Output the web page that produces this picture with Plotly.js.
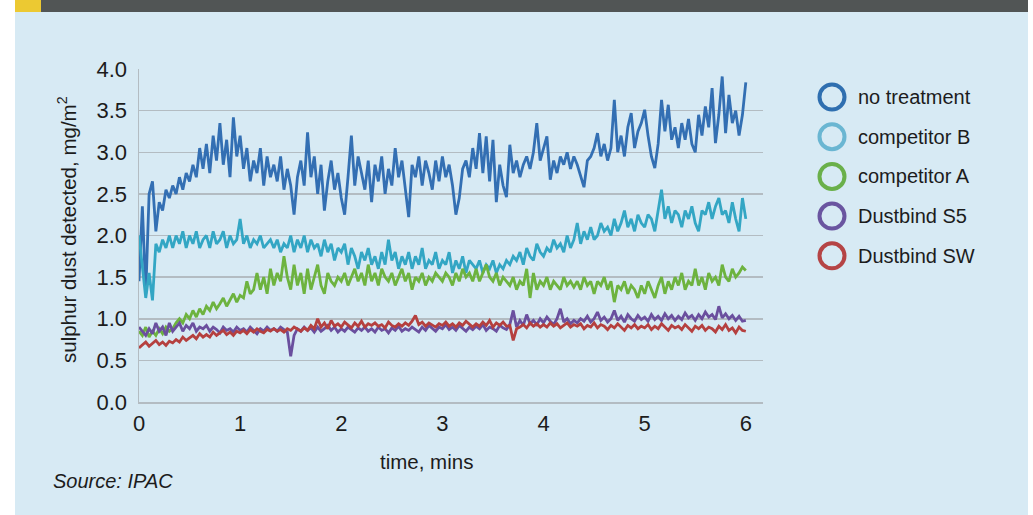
<!DOCTYPE html>
<html><head><meta charset="utf-8">
<script src="https://cdn.plot.ly/plotly-3.0.1.min.js"></script>
<style>
html,body{margin:0;padding:0;background:#fff;width:1033px;height:515px;overflow:hidden;}
#panel{position:absolute;left:15px;top:12px;width:1013px;height:503px;background:#d7eaf4;}
#bar{position:absolute;left:15px;top:0;width:1013px;height:12px;background:#515555;}
#yel{position:absolute;left:15px;top:0;width:26px;height:12px;background:#ecc932;}
#chart{position:absolute;left:0;top:0;width:1033px;height:515px;}
</style></head><body>
<div id="panel"></div><div id="bar"></div><div id="yel"></div>
<div id="chart"></div>
<script>
// sampled every 2 seconds, 0..6 min
const seriesNames = ["no treatment", "competitor B", "competitor A", "Dustbind S5", "Dustbind SW"];
const lineColors = ["#336fb3", "#33a6c4", "#6db33f", "#6a4f9e", "#b5403f"];
const legendColors = ["#2f6fb0", "#6ab6d2", "#6ab04a", "#6a55a0", "#b54445"];
const xTicks = [0, 1, 2, 3, 4, 5, 6];
const yTicks = [0, 0.5, 1, 1.5, 2, 2.5, 3, 3.5, 4];

const noTreatment = [
1.45,2.35,1.30,2.50,2.65,2.05,2.40,2.30,2.55,2.45,
2.60,2.50,2.70,2.55,2.75,2.65,2.85,2.70,3.05,2.80,
3.10,2.75,3.20,2.90,3.35,2.85,3.15,2.70,3.42,2.95,
3.20,2.80,3.05,2.65,2.90,2.75,3.05,2.60,2.95,2.70,
2.85,2.65,2.95,2.55,2.80,2.60,2.25,2.70,2.90,2.60,
3.24,2.70,2.95,2.50,2.85,2.30,2.65,2.90,2.55,2.75,
2.45,2.25,2.70,3.20,2.60,2.95,2.75,2.55,2.90,2.40,
2.85,2.65,2.95,2.50,2.80,2.60,3.05,2.70,2.90,2.55,
2.22,2.85,2.70,2.95,2.60,2.90,2.75,2.55,2.90,2.65,
2.95,2.70,2.85,2.60,2.25,2.45,2.80,2.90,2.70,3.05,
2.80,3.23,2.75,3.19,2.65,3.15,2.40,2.85,2.60,2.46,
3.09,2.75,2.90,2.70,2.85,2.95,2.80,3.00,3.35,2.90,
3.05,3.19,2.67,2.90,2.75,2.95,2.85,3.00,2.80,2.95,
2.85,2.70,2.58,2.90,2.95,3.05,3.23,2.95,3.10,2.90,
3.05,3.63,3.00,3.20,2.95,3.30,3.47,3.05,3.25,3.35,
3.51,3.20,2.95,2.81,3.10,3.63,3.25,3.57,3.15,3.30,
3.05,3.35,3.15,3.40,3.10,3.00,3.45,3.20,3.55,3.30,
3.77,3.11,3.45,3.91,3.23,3.69,3.35,3.50,3.20,3.45,3.84];

const competitorB = [
2.00,1.65,1.25,1.55,1.22,1.90,1.80,1.95,1.85,2.00,
1.85,2.00,1.90,2.05,1.85,2.00,1.90,2.05,1.85,1.95,
2.00,1.85,2.05,1.90,1.95,2.05,1.85,2.00,1.90,1.95,
2.20,1.90,2.00,1.85,1.95,1.90,2.00,1.85,1.90,1.95,
1.85,1.95,1.80,1.90,1.85,2.00,1.80,1.95,1.85,2.00,
1.80,1.95,1.85,1.90,1.75,1.95,1.80,1.90,1.70,1.85,
1.80,1.90,1.65,1.85,1.75,1.60,1.80,1.70,1.85,1.65,
1.75,1.60,1.80,1.65,1.95,1.70,1.80,1.60,1.75,1.65,
1.80,1.60,1.75,1.65,1.85,1.60,1.70,1.65,1.80,1.60,
1.70,1.65,1.80,1.55,1.70,1.60,1.75,1.55,1.70,1.65,
1.60,1.70,1.55,1.65,1.60,1.70,1.55,1.65,1.60,1.70,
1.65,1.75,1.70,1.80,1.65,1.85,1.75,1.70,1.90,1.80,
1.75,1.85,1.80,1.95,1.85,1.90,1.80,2.00,1.85,1.95,
2.15,1.90,2.05,1.95,2.10,1.95,2.00,2.15,2.05,2.10,
2.00,2.20,2.05,2.15,2.30,2.10,2.20,2.05,2.25,2.15,
2.10,2.25,2.20,2.05,2.30,2.55,2.20,2.35,2.15,2.30,
2.25,2.10,2.30,2.20,2.35,2.15,2.05,2.30,2.25,2.40,
2.20,2.35,2.45,2.25,2.30,2.15,2.40,2.20,2.05,2.45,2.20];

const competitorA = [
0.85,0.80,0.90,0.78,0.85,0.80,0.88,0.82,0.90,0.85,
0.88,0.95,1.00,0.95,1.05,1.00,1.10,1.02,1.12,1.05,
1.15,1.10,1.20,1.12,1.18,1.25,1.15,1.22,1.30,1.20,
1.28,1.25,1.45,1.30,1.35,1.55,1.35,1.50,1.30,1.60,
1.40,1.55,1.45,1.75,1.50,1.35,1.65,1.40,1.55,1.30,
1.60,1.35,1.50,1.65,1.40,1.30,1.55,1.45,1.40,1.50,
1.45,1.55,1.40,1.50,1.60,1.45,1.55,1.40,1.65,1.45,
1.55,1.40,1.60,1.50,1.45,1.55,1.40,1.50,1.60,1.45,
1.55,1.35,1.50,1.45,1.55,1.40,1.50,1.45,1.55,1.50,
1.45,1.55,1.50,1.40,1.55,1.45,1.60,1.50,1.55,1.45,
1.60,1.45,1.55,1.65,1.50,1.45,1.55,1.40,1.50,1.45,
1.40,1.50,1.35,1.45,1.40,1.60,1.25,1.55,1.35,1.45,
1.40,1.50,1.35,1.45,1.40,1.35,1.50,1.40,1.45,1.38,
1.45,1.35,1.50,1.40,1.45,1.30,1.45,1.40,1.50,1.35,
1.45,1.20,1.40,1.35,1.45,1.30,1.40,1.35,1.25,1.40,
1.30,1.45,1.35,1.25,1.40,1.50,1.30,1.45,1.35,1.50,
1.40,1.55,1.35,1.45,1.40,1.60,1.40,1.50,1.35,1.55,
1.45,1.50,1.40,1.65,1.50,1.45,1.60,1.50,1.55,1.62,1.58];

const dustbindS5 = [
0.90,0.85,0.80,0.88,0.82,0.95,0.85,0.90,0.80,0.95,
0.85,0.90,0.95,0.85,0.92,0.88,0.95,0.85,0.90,0.88,
0.92,0.85,0.90,0.87,0.83,0.90,0.86,0.88,0.84,0.90,
0.86,0.88,0.84,0.90,0.86,0.82,0.88,0.85,0.90,0.86,
0.88,0.85,0.90,0.87,0.84,0.55,0.80,0.88,0.85,0.90,
0.86,0.89,0.84,0.90,0.85,0.88,0.92,0.86,0.90,0.84,
0.88,0.85,0.90,0.87,0.84,0.89,0.86,0.90,0.85,0.88,
0.84,0.90,0.86,0.88,0.83,0.89,0.86,0.91,0.85,0.88,
0.86,0.90,0.87,0.84,0.90,0.86,0.92,0.88,0.85,0.90,
0.88,0.93,0.87,0.90,0.86,0.92,0.88,0.85,0.90,0.87,
0.91,0.88,0.93,0.86,0.90,0.88,0.85,0.92,0.89,0.87,
0.93,1.10,0.90,0.98,0.92,1.05,0.94,0.98,0.93,1.00,
0.95,1.02,0.97,0.93,1.00,1.12,0.96,1.00,0.94,0.98,
0.95,1.00,0.97,1.03,0.96,1.00,1.08,0.98,1.02,0.96,
1.00,1.10,0.98,1.03,0.96,1.05,1.00,0.97,1.04,0.99,
1.02,0.97,1.05,0.99,1.03,0.98,1.06,1.00,1.04,0.98,
1.03,0.99,1.07,1.01,1.04,0.98,1.05,1.00,1.08,1.02,
1.05,0.99,1.15,1.01,1.06,1.00,1.04,0.98,1.03,0.97,0.98];

const dustbindSW = [
0.65,0.68,0.72,0.67,0.70,0.74,0.69,0.72,0.68,0.73,
0.71,0.75,0.72,0.78,0.74,0.77,0.80,0.76,0.82,0.78,
0.81,0.78,0.84,0.80,0.83,0.86,0.81,0.84,0.80,0.85,
0.83,0.86,0.82,0.87,0.84,0.88,0.85,0.83,0.87,0.85,
0.88,0.85,0.87,0.84,0.88,0.86,0.90,0.87,0.85,0.89,
0.86,0.92,0.88,1.00,0.90,0.95,0.88,0.98,0.91,0.94,
0.90,0.96,0.92,0.89,0.95,0.91,0.97,0.90,0.94,0.92,
0.95,0.91,0.93,0.89,0.96,0.92,0.90,0.94,0.91,0.95,
0.92,0.97,1.04,0.93,0.96,0.91,0.95,0.93,0.90,0.94,
0.92,0.96,0.91,0.94,0.90,0.95,0.92,0.97,0.93,0.90,
0.94,0.91,0.96,0.92,0.98,0.90,0.95,0.92,0.96,0.91,
0.92,0.74,0.88,0.90,0.93,0.89,0.95,0.91,0.94,0.90,
0.93,0.90,0.95,0.91,0.94,0.89,0.92,0.95,0.90,0.93,
0.91,0.94,0.88,0.92,0.90,0.95,0.89,0.93,0.91,0.87,
0.92,0.89,0.94,0.90,0.86,0.92,0.89,0.93,0.88,0.91,
0.89,0.93,0.87,0.91,0.88,0.94,0.90,0.86,0.92,0.89,
0.91,0.87,0.93,0.89,0.85,0.91,0.88,0.92,0.86,0.90,
0.88,0.84,0.91,0.87,0.93,0.86,0.89,0.83,0.90,0.86,0.85];

const allSeries = [noTreatment, competitorB, competitorA, dustbindS5, dustbindSW];

// time axis: one sample every 2 seconds
const timeMins = noTreatment.map((_, i) => i * 2 / 60);

const FONT = "'Liberation Sans', Arial, sans-serif";
const TXT = "#1c1c1c";

// plot area in pixels
const L = 139, R = 763, T = 69, B = 402;
const px = x => (x - L) / (R - L);
const py = y => (B - y) / (B - T);

const traces = allSeries.map((s, k) => ({
  type: "scatter", mode: "lines", x: timeMins, y: s, name: seriesNames[k],
  line: {color: lineColors[k], width: 2.8}, showlegend: false, hoverinfo: "skip"
}));

const shapes = [];
const annotations = [];
seriesNames.forEach((n, k) => {
  const cy = 97 + k * 39.7, cx = 832, r = 12.5;
  shapes.push({type: "circle", xref: "paper", yref: "paper",
    x0: px(cx - r), x1: px(cx + r), y0: py(cy + r), y1: py(cy - r),
    line: {color: legendColors[k], width: 4}, fillcolor: "rgba(0,0,0,0)"});
  annotations.push({xref: "paper", yref: "paper", x: px(856), y: py(cy), xanchor: "left", yanchor: "middle",
    text: n, showarrow: false, font: {family: FONT, size: 20, color: TXT}});
});
annotations.push({xref: "paper", yref: "paper", x: px(67), y: py(230), xanchor: "center", yanchor: "middle",
  text: "sulphur dust detected, mg/m<sup>2</sup>", textangle: -90, showarrow: false,
  font: {family: FONT, size: 20.5, color: TXT}});
annotations.push({xref: "paper", yref: "paper", x: px(426), y: py(461), xanchor: "center", yanchor: "middle",
  text: "time, mins", showarrow: false, font: {family: FONT, size: 20.5, color: TXT}});
annotations.push({xref: "paper", yref: "paper", x: px(51), y: py(481), xanchor: "left", yanchor: "middle",
  text: "<i>Source: IPAC</i>", showarrow: false, font: {family: FONT, size: 20, color: TXT}});

const layout = {
  width: 1033, height: 515,
  margin: {l: L, r: 1033 - R, t: T, b: 515 - B, pad: 0},
  paper_bgcolor: "rgba(0,0,0,0)", plot_bgcolor: "rgba(0,0,0,0)",
  showlegend: false,
  xaxis: {range: [0, 6.17], tickmode: "array", tickvals: xTicks, showgrid: false, zeroline: false,
    showline: true, linecolor: "#b3bcc2", linewidth: 1.5, ticks: "outside", ticklen: 1, tickcolor: "rgba(0,0,0,0)",
    tickfont: {family: FONT, size: 22, color: TXT}},
  yaxis: {range: [0, 4], tickmode: "array", tickvals: yTicks, tickformat: ".1f", showgrid: true,
    gridcolor: "#b3bcc2", gridwidth: 1.5, zeroline: false, showline: true, linecolor: "#b3bcc2", linewidth: 1.5,
    ticks: "outside", ticklen: 6, tickcolor: "rgba(0,0,0,0)",
    tickfont: {family: FONT, size: 22, color: TXT}},
  shapes: shapes, annotations: annotations
};

Plotly.newPlot("chart", traces, layout, {staticPlot: true, displayModeBar: false});
</script>
</body></html>
